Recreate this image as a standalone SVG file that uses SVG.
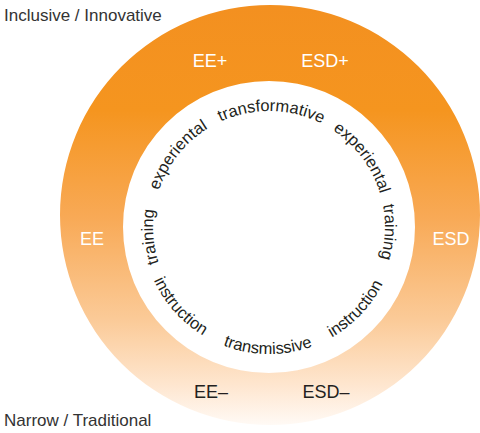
<svg xmlns="http://www.w3.org/2000/svg" xmlns:xlink="http://www.w3.org/1999/xlink" width="480" height="433" viewBox="0 0 480 433">
  <defs>
    <linearGradient id="ringGrad" gradientUnits="userSpaceOnUse" x1="0" y1="5" x2="0" y2="427">
      <stop offset="0" stop-color="#F39020"/>
      <stop offset="0.25" stop-color="#F5951F"/>
      <stop offset="0.5" stop-color="#F8A955"/>
      <stop offset="0.75" stop-color="#FBCB99"/>
      <stop offset="0.9" stop-color="#FEE6CF"/>
      <stop offset="1" stop-color="#FFFBF7"/>
    </linearGradient>
    <path id="arcTop" d="M 269,343 A 116 116 0 1 1 269,111 A 116 116 0 1 1 269,343"/>
    <path id="arcBottom" d="M 269,100 A 127 127 0 1 0 269,354 A 127 127 0 1 0 269,100"/>
    <style>
      .ring-label { font-family: "Liberation Sans", Arial, sans-serif; font-size: 18px; text-anchor: middle; }
      .light { fill: #FFFFFF; }
      .dark { fill: #231F20; }
      .axis { font-family: "Liberation Sans", Arial, sans-serif; font-size: 17px; fill: #333333; }
      .arc-text { font-family: "Liberation Sans", Arial, sans-serif; font-size: 16.5px; fill: #231F20; text-anchor: middle; }
    </style>
  </defs>

  <g id="ring">
    <path fill="url(#ringGrad)" fill-rule="evenodd"
      d="M 60,215 A 210 210 0 1 1 480,215 A 210 210 0 1 1 60,215 Z
         M 123,227 A 146 146 0 1 0 415,227 A 146 146 0 1 0 123,227 Z"/>
  </g>

  <g id="axis-labels">
    <text id="label-inclusive" class="axis" x="4" y="21">Inclusive / Innovative</text>
    <text id="label-narrow" class="axis" x="4" y="426">Narrow / Traditional</text>
  </g>

  <g id="ring-labels">
    <g id="node-ee-plus"><text class="ring-label light" x="210" y="67">EE+</text></g>
    <g id="node-esd-plus"><text class="ring-label light" x="325" y="67">ESD+</text></g>
    <g id="node-ee"><text class="ring-label light" x="92" y="245">EE</text></g>
    <g id="node-esd"><text class="ring-label light" x="451" y="245">ESD</text></g>
    <g id="node-ee-minus"><text class="ring-label dark" x="211" y="398">EE–</text></g>
    <g id="node-esd-minus"><text class="ring-label dark" x="326" y="398">ESD–</text></g>
  </g>

  <g id="inner-words">
    <g id="word-training-left"><text class="arc-text"><textPath xlink:href="#arcTop" href="#arcTop" startOffset="172.6">training</textPath></text></g>
    <g id="word-experiental-left"><text class="arc-text"><textPath xlink:href="#arcTop" href="#arcTop" startOffset="259.5">experiental</textPath></text></g>
    <g id="word-transformative"><text class="arc-text"><textPath xlink:href="#arcTop" href="#arcTop" startOffset="366.5">transformative</textPath></text></g>
    <g id="word-experiental-right"><text class="arc-text"><textPath xlink:href="#arcTop" href="#arcTop" startOffset="472">experiental</textPath></text></g>
    <g id="word-training-right"><text class="arc-text"><textPath xlink:href="#arcTop" href="#arcTop" startOffset="551">training</textPath></text></g>
    <g id="word-instruction-left"><text class="arc-text"><textPath xlink:href="#arcBottom" href="#arcBottom" startOffset="292">instruction</textPath></text></g>
    <g id="word-transmissive"><text class="arc-text"><textPath xlink:href="#arcBottom" href="#arcBottom" startOffset="397.5">transmissive</textPath></text></g>
    <g id="word-instruction-right"><text class="arc-text"><textPath xlink:href="#arcBottom" href="#arcBottom" startOffset="502">instruction</textPath></text></g>
  </g>
</svg>
